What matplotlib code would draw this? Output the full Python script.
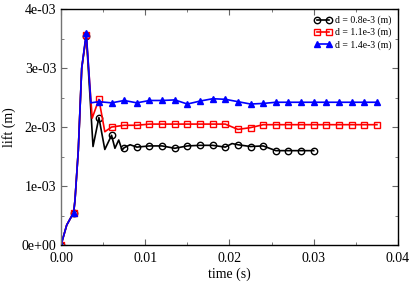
import matplotlib
matplotlib.use("Agg")
import matplotlib.pyplot as plt
import numpy as np
from matplotlib.ticker import FormatStrFormatter, MultipleLocator

plt.rcParams["font.family"] = ["Liberation Serif", "DejaVu Serif"]

# time (ms) / lift (1e-3 m)
t_08 = [0, 0.68, 1.5, 1.66, 2.05, 2.46, 3.0, 3.45, 3.8, 4.5, 5.2, 6.0, 6.4, 6.85,
        7.25, 7.5, 8.2, 9.0, 10.5, 12.0, 13.5, 15.0, 16.5, 18.0, 19.5, 20.3, 21.0,
        22.5, 24.0, 25.5, 27.0, 28.5, 30.0]
lift_08 = [0, 0.34, 0.55, 0.76, 1.6, 3.0, 3.55, 2.5, 1.67, 2.16, 1.62, 1.86, 1.64, 1.78,
           1.61, 1.65, 1.70, 1.66, 1.68, 1.68, 1.64, 1.68, 1.69, 1.69, 1.66, 1.72, 1.70,
           1.67, 1.68, 1.60, 1.60, 1.60, 1.60]

t_11 = [0, 0.68, 1.5, 1.66, 2.05, 2.46, 3.0, 3.7, 4.5, 5.2, 6.0, 7.5, 9.0, 10.5,
        12.0, 13.5, 15.0, 16.5, 18.0, 19.5, 21.0, 22.5, 24.0, 25.5, 27.0, 28.5,
        30.0, 31.5, 33.0, 34.5, 36.0, 37.5]
lift_11 = [0, 0.34, 0.55, 0.76, 1.6, 3.0, 3.56, 2.15, 2.47, 1.92, 2.00, 2.03, 2.03, 2.05,
           2.05, 2.05, 2.05, 2.05, 2.05, 2.05, 1.96, 1.99, 2.04, 2.04, 2.04, 2.04,
           2.04, 2.04, 2.04, 2.04, 2.04, 2.04]

t_14 = [0, 0.68, 1.5, 1.66, 2.05, 2.46, 3.0, 3.55, 4.5, 6.0, 7.5, 9.0, 10.5, 12.0,
        13.5, 15.0, 16.5, 18.0, 19.5, 21.0, 22.5, 24.0, 25.5, 27.0, 28.5, 30.0,
        31.5, 33.0, 34.5, 36.0, 37.5]
lift_14 = [0, 0.34, 0.55, 0.76, 1.6, 3.0, 3.6, 2.41, 2.43, 2.41, 2.45, 2.41, 2.45, 2.45,
           2.46, 2.39, 2.44, 2.48, 2.47, 2.43, 2.39, 2.40, 2.42, 2.42, 2.42, 2.42,
           2.42, 2.42, 2.42, 2.42, 2.42]

labels = ["d = 0.8e-3 (m)", "d = 1.1e-3 (m)", "d = 1.4e-3 (m)"]


def mark_idx(t):
    # markers sit on the 1.5 ms output grid
    t = np.asarray(t)
    return [i for i, v in enumerate(t) if abs(v / 1.5 - round(v / 1.5)) < 1e-6]


fig = plt.figure(figsize=(4.15, 2.82), dpi=100)
ax = fig.add_axes([0.147, 0.131, 0.812, 0.837])

series = [
    (t_08, lift_08, "black", "o", "none"),
    (t_11, lift_11, "red", "s", "none"),
    (t_14, lift_14, "blue", "^", "blue"),
]
for (t, y, c, m, fc), lab in zip(series, labels):
    ax.plot(np.array(t) * 1e-3, np.array(y) * 1e-3, color=c, lw=1.2,
            marker=m, ms=4.6, mfc=fc, mec=c, mew=1.0,
            markevery=mark_idx(t), label=lab)

ax.set_xlim(0, 0.04)
ax.set_ylim(0, 0.004)
ax.xaxis.set_major_locator(MultipleLocator(0.01))
ax.xaxis.set_minor_locator(MultipleLocator(0.005))
ax.yaxis.set_major_locator(MultipleLocator(0.001))
ax.yaxis.set_minor_locator(MultipleLocator(0.0005))
ax.xaxis.set_major_formatter(FormatStrFormatter("%.2f"))
ax.yaxis.set_major_formatter(FormatStrFormatter("%.0e"))
ax.tick_params(which="both", direction="in", top=True, right=True, labelsize=10)
ax.tick_params(axis="x", pad=5)
ax.tick_params(which="major", length=4, color="0.4")
ax.tick_params(which="minor", length=2.5, color="0.4")
for s in ax.spines.values():
    s.set_linewidth(1.0)
ax.spines["left"].set_color("0.45")

ax.set_xlabel("time (s)", fontsize=10, labelpad=2)
ax.set_ylabel("lift (m)", fontsize=10, labelpad=4)

ax.legend(loc="upper right", bbox_to_anchor=(1.0, 1.0), frameon=False, fontsize=7,
          numpoints=2, handlelength=1.8, handletextpad=0.3, labelspacing=0.25,
          borderaxespad=0.3)

fig.savefig("out.png", dpi=100)
